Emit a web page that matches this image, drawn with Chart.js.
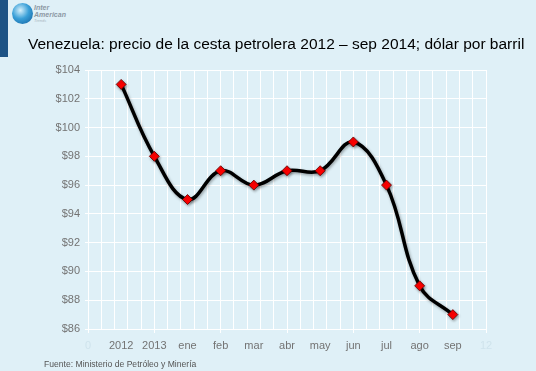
<!DOCTYPE html>
<html><head><meta charset="utf-8">
<script src="https://cdn.jsdelivr.net/npm/chart.js@4"></script>
<style>
html,body{margin:0;padding:0;background:#dff0f7;}
#wrap{position:relative;width:536px;height:371px;overflow:hidden;background:#dff0f7;font-family:"Liberation Sans",Arial,sans-serif;}
#bar{position:absolute;left:0;top:0;width:8px;height:57px;background:#1d5385;}
#globe{position:absolute;left:12px;top:3px;width:21px;height:21px;border-radius:50%;background:radial-gradient(circle at 40% 35%,#d6f0fb 0%,#3aa0d8 45%,#0d5a9a 100%);}
#logo{position:absolute;left:34px;top:4px;font-size:7px;line-height:7px;font-style:italic;font-weight:bold;color:#8c98a4;}
#logo span{display:block;font-size:4px;line-height:6px;font-weight:normal;color:#a8b4be;}
#title{position:absolute;left:28px;top:35px;font-size:15.5px;color:#000;white-space:nowrap;}
#src{position:absolute;left:44px;top:359px;font-size:8.6px;color:#555;white-space:nowrap;}
#c{position:absolute;left:0;top:0;}
</style></head>
<body><div id="wrap">
<div id="bar"></div><div id="globe"></div>
<div id="logo">Inter<br>American<span>Trends</span></div>
<canvas id="c" width="536" height="371"></canvas>
<div id="title">Venezuela: precio de la cesta petrolera 2012 – sep 2014; dólar por barril</div>
<div id="src">Fuente: Ministerio de Petróleo y Minería</div>
</div>
<script>
const categories = ['2012','2013','ene','feb','mar','abr','may','jun','jul','ago','sep'];
const prices = [103, 98, 95, 97, 96, 97, 97, 99, 96, 89, 87];
const xTickLabels = ['0','2012','2013','ene','feb','mar','abr','may','jun','jul','ago','sep','12'];
const yMin = 86, yMax = 104, yStep = 2;

const points = categories.map((c,i)=>({x:i+1, y:prices[i]}));

const shadowPlugin = {
  id:'shadow',
  beforeDatasetDraw(chart){const ctx=chart.ctx;ctx.save();ctx.shadowColor='rgba(0,0,0,0.35)';ctx.shadowBlur=3;ctx.shadowOffsetX=1;ctx.shadowOffsetY=1.5;},
  afterDatasetDraw(chart){chart.ctx.restore();}
};

new Chart(document.getElementById('c'),{
  type:'scatter',
  data:{datasets:[{
    data:points, showLine:true, tension:0.4,
    borderColor:'#000', borderWidth:3.5,
    pointStyle:'rectRot', pointRadius:5, pointHoverRadius:5,
    pointBackgroundColor:'#ff0000', pointBorderColor:'#5a0000', pointBorderWidth:0.8
  }]},
  plugins:[shadowPlugin],
  options:{
    responsive:false, animation:false, events:[],
    layout:{padding:{top:70,right:50,left:0,bottom:0}},
    plugins:{legend:{display:false},tooltip:{enabled:false}},
    scales:{
      x:{type:'linear',min:0,max:xTickLabels.length-1,
        afterBuildTicks(s){const t=[];for(let i=0;i<=60;i++)t.push({value:i/5});s.ticks=t;},
        afterFit(s){s.height=42;},
        grid:{color:c=>{const i=Math.round(c.tick.value*5);return i%2===0?'#ffffff':'rgba(0,0,0,0)';},lineWidth:1,
          tickLength:4,tickColor:c=>{const i=Math.round(c.tick.value*5);return i%10===0?'#ffffff':'rgba(0,0,0,0)';}},
        border:{color:'#ffffff',width:1},
        ticks:{autoSkip:false,maxRotation:0,padding:6,
          font:{family:'"Liberation Sans", Arial, sans-serif',size:11},
          color:c=>{const v=c.tick.value;return (v===0||v===12)?'#cfe3ec':'#737373';},
          callback:(v,i)=>{const k=Math.round(v*5);return k%5===0?xTickLabels[k/5]:'';}}
      },
      y:{min:yMin,max:yMax,
        afterFit(s){s.width=88;},
        grid:{color:'#ffffff',lineWidth:1,tickLength:3,tickColor:'#ffffff'},
        border:{color:'#ffffff',width:1},
        ticks:{stepSize:yStep,padding:5,color:'#737373',
          font:{family:'"Liberation Sans", Arial, sans-serif',size:11},
          callback:v=>'$'+v}
      }
    }
  }
});
</script>
</body></html>
